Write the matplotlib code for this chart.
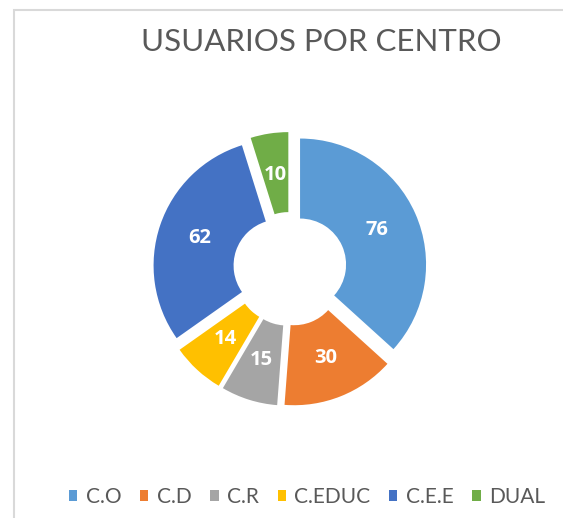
import matplotlib
matplotlib.use("Agg")
import matplotlib.pyplot as plt
from matplotlib.patches import Rectangle

plt.rcParams['font.family'] = ['Lato', 'DejaVu Sans']

# data
categories = ["C.O", "C.D", "C.R", "C.EDUC", "C.E.E", "DUAL"]
usuarios = [76, 30, 15, 14, 62, 10]
colores = ["#5B9BD5", "#ED7D31", "#A5A5A5", "#FFC000", "#4472C4", "#70AD47"]
titulo = "USUARIOS POR CENTRO"

W, H = 563, 518
fig = plt.figure(figsize=(W / 100, H / 100), dpi=100)
ax = fig.add_axes([0, 0, 1, 1])

R = 126          # outer radius (px)
ring = 80        # ring width (px)
cx, cy = 290, H - 269

wedges, texts, autotexts = ax.pie(
    usuarios, colors=colores, startangle=90, counterclock=False,
    center=(cx, cy), radius=R, explode=[11] * len(usuarios),
    wedgeprops=dict(width=ring, linewidth=0),
    autopct=lambda p: f"{p * sum(usuarios) / 100:.0f}", pctdistance=0.67,
    textprops=dict(color="white", fontsize=14.5, fontweight="bold",
                   family=["Open Sans", "DejaVu Sans"]))

ax.set_xlim(0, W)
ax.set_ylim(0, H)
ax.set_aspect("equal")
ax.axis("off")

# chart border (only top & left visible in crop)
fig.add_artist(Rectangle((14 / W, -0.5), 2, 1.5 - 10 / H, transform=fig.transFigure,
                         fill=False, edgecolor="#D9D9D9", linewidth=1.5))

fig.text(321 / W, 1 - 42 / H, titulo, ha="center", va="center",
         fontsize=22.5, color="#595959")

ax.legend(wedges, categories, loc="center", bbox_to_anchor=(307 / W, 1 - 497 / H),
          bbox_transform=fig.transFigure, ncol=6, frameon=False, fontsize=15,
          handlelength=0.4, handleheight=0.4, handletextpad=0.4, columnspacing=0.9,
          labelcolor="#595959")

fig.savefig("out.png", dpi=100, facecolor="white")
